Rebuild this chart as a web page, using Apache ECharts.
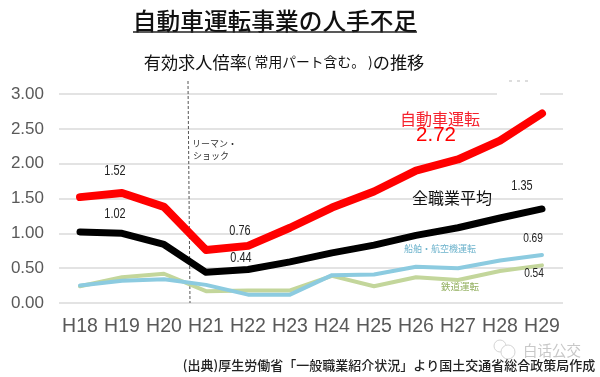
<!DOCTYPE html>
<html>
<head>
<meta charset="utf-8">
<style>html,body{margin:0;padding:0;background:#fff}#main{width:600px;height:377px}</style>
<script src="https://cdn.jsdelivr.net/npm/echarts@6/dist/echarts.min.js"></script>
</head>
<body>
<div id="main"></div>
<script>
var years = ['H18','H19','H20','H21','H22','H23','H24','H25','H26','H27','H28','H29'];
var jidosha = [1.52,1.58,1.38,0.76,0.82,1.08,1.37,1.60,1.90,2.06,2.33,2.72];
var zenshokugyo = [1.02,1.00,0.84,0.44,0.48,0.59,0.72,0.83,0.97,1.08,1.22,1.35];
var senpaku = [0.25,0.32,0.34,0.26,0.12,0.12,0.40,0.41,0.52,0.50,0.61,0.69];
var tetsudo = [0.24,0.37,0.42,0.17,0.18,0.18,0.39,0.24,0.37,0.33,0.46,0.54];

var jp = '"Noto Sans CJK JP"';
var latin = 'Liberation Sans';

function txt(x, y, s, size, color, font, weight, align) {
    return {
        type: 'text', x: x, y: y, z: 20,
        style: {
            text: s, fontSize: size, fill: color, fontFamily: font || jp,
            fontWeight: weight || 'normal', align: align || 'center', verticalAlign: 'middle'
        }
    };
}

// the small value labels are in a condensed face in the original
function num(x, y, s, size) {
    var t = txt(x, y, s, size || 14, '#222', latin);
    t.scaleX = 0.78;
    return t;
}

var myChart = echarts.init(document.getElementById('main'));

var option = {
    animation: false,
    backgroundColor: '#fff',
    grid: { left: 59, right: 37, top: 94, bottom: 74 },
    xAxis: {
        type: 'category',
        data: years,
        axisLine: { show: false },
        axisTick: { show: false },
        axisLabel: { color: '#595959', fontSize: 19.5, fontFamily: latin, margin: 14, interval: 0 }
    },
    yAxis: {
        type: 'value',
        min: 0,
        max: 3,
        interval: 0.5,
        axisLine: { show: false },
        axisTick: { show: false },
        axisLabel: {
            color: '#595959', fontSize: 17, fontFamily: latin, margin: 15,
            formatter: function (v) { return v.toFixed(2); }
        },
        splitLine: { lineStyle: { color: '#e3e3e3', width: 2 } }
    },
    series: [
        { name: '鉄道運転', type: 'line', data: tetsudo, symbol: 'none', z: 3,
          lineStyle: { color: '#c3d69b', width: 4, cap: 'round', join: 'round' } },
        { name: '船舶・航空機運転', type: 'line', data: senpaku, symbol: 'none', z: 4,
          lineStyle: { color: '#8ccbe0', width: 4, cap: 'round', join: 'round' } },
        { name: '全職業平均', type: 'line', data: zenshokugyo, symbol: 'none', z: 5,
          lineStyle: { color: '#000', width: 7, cap: 'round', join: 'round' } },
        { name: '自動車運転', type: 'line', data: jidosha, symbol: 'none', z: 6,
          lineStyle: { color: '#ff0000', width: 8, cap: 'round', join: 'round' } }
    ],
    graphic: [
        // title
        txt(275, 21, '自動車運転事業の人手不足', 23.7, '#111', jp, 500),
        { type: 'line', z: 20, shape: { x1: 133, y1: 32, x2: 417, y2: 32 }, style: { stroke: '#222', lineWidth: 1.5 } },
        {
            type: 'text', x: 284, y: 62, z: 20,
            style: {
                text: '{a|有効求人倍率}{b|( 常用パート含む。 )}{a|の推移}',
                align: 'center', verticalAlign: 'middle',
                rich: {
                    a: { fontSize: 17.2, fontFamily: jp, fill: '#111' },
                    b: { fontSize: 13.8, fontFamily: jp, fill: '#111' }
                }
            }
        },
        // white patch over the top gridline, with the clipped remains of a label
        { type: 'rect', z: 10, shape: { x: 497, y: 85, width: 43, height: 14 }, style: { fill: '#fff' } },
        { type: 'line', z: 11, shape: { x1: 509, y1: 81, x2: 530, y2: 81 }, style: { stroke: '#bbb', lineWidth: 1, lineDash: [3, 5] } },
        // lehman line
        { type: 'line', z: 2, shape: { x1: 188, y1: 81, x2: 190, y2: 303 }, style: { stroke: '#555', lineWidth: 1, lineDash: [3, 2] } },
        txt(192, 144, 'リーマン・', 9, '#333', jp, 'normal', 'left'),
        txt(193, 156, 'ショック', 9, '#333', jp, 'normal', 'left'),
        // series names
        txt(440, 119, '自動車運転', 16, '#f5222d'),
        txt(436, 135, '2.72', 20.5, '#ff0000', latin),
        txt(452, 198, '全職業平均', 16, '#111'),
        txt(440, 249, '船舶・航空機運転', 9, '#6db3cc'),
        txt(460, 286, '鉄道運転', 9.5, '#93b060'),
        // value labels
        num(115, 171, '1.52'),
        num(115, 214, '1.02'),
        num(240, 231, '0.76'),
        num(241, 258, '0.44'),
        num(522, 186, '1.35'),
        num(533, 238, '0.69', 13),
        num(534, 273, '0.54', 13),
        // source and watermark
        txt(389, 365, '(出典)厚生労働省「一般職業紹介状況」より国土交通省総合政策局作成', 13, '#222', jp, 500),
        txt(552, 350, '白话公交', 14.5, '#c8c8c8'),
        { type: 'circle', z: 19, shape: { cx: 500, cy: 346, r: 6 }, style: { fill: 'none', stroke: '#d5d5d5', lineWidth: 1 } },
        { type: 'circle', z: 19, shape: { cx: 508, cy: 352, r: 7 }, style: { fill: '#fff', stroke: '#d5d5d5', lineWidth: 1 } }
    ]
};

myChart.setOption(option);
</script>
</body>
</html>
